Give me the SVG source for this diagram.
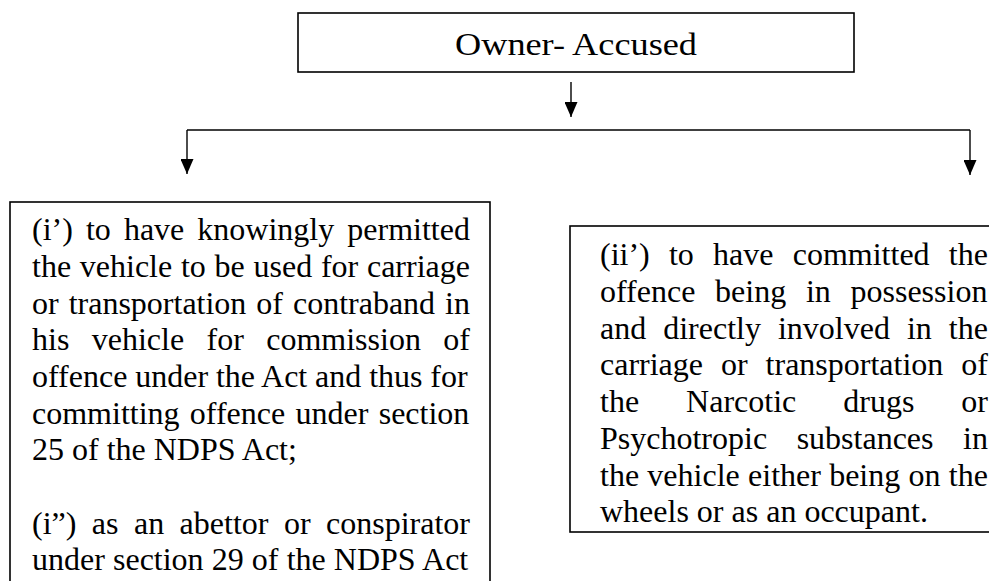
<svg xmlns="http://www.w3.org/2000/svg" width="989" height="581" viewBox="0 0 989 581">
<style>
.box{fill:#fff;stroke:#000;stroke-width:1.6}
.t{font-family:"Liberation Serif","Times New Roman",serif;font-size:32px;fill:#000}
.ln{fill:none;stroke:#000;stroke-width:1.4}
</style>
<defs>
<marker id="ah" viewBox="0 0 15 13" refX="15" refY="6.5" markerWidth="15" markerHeight="13" orient="auto" markerUnits="userSpaceOnUse">
<path d="M0,0 L15,6.5 L0,13 z" fill="#000"/>
</marker>
</defs>
<rect width="989" height="581" fill="#fff"/>
<g id="connectors">
<path class="ln" d="M571,82 V117" marker-end="url(#ah)"/>
<path class="ln" d="M187,130 H970"/>
<path class="ln" d="M187,130 V174" marker-end="url(#ah)"/>
<path class="ln" d="M970,130 V175" marker-end="url(#ah)"/>
</g>
<g id="owner-accused">
<rect class="box" x="298" y="13" width="556" height="59"/>
<text class="t" x="576" y="55" text-anchor="middle" textLength="242" lengthAdjust="spacingAndGlyphs">Owner- Accused</text>
</g>
<g id="left-option">
<rect class="box" x="10" y="202" width="480" height="420"/>
<text class="t" x="32" y="240" word-spacing="5.07">(i’) to have knowingly permitted</text>
<text class="t" x="32" y="276.8" word-spacing="0.73">the vehicle to be used for carriage</text>
<text class="t" x="32" y="313.5" word-spacing="1.97">or transportation of contraband in</text>
<text class="t" x="32" y="350.2" word-spacing="14.4">his vehicle for commission of</text>
<text class="t" x="32" y="386.9" word-spacing="-0.16">offence under the Act and thus for</text>
<text class="t" x="32" y="423.6" word-spacing="2.32">committing offence under section</text>
<text class="t" x="32" y="460.3">25 of the NDPS Act;</text>
<text class="t" x="32" y="533.7" word-spacing="7.45">(i”) as an abettor or conspirator</text>
<text class="t" x="32" y="570.4" word-spacing="0.12">under section 29 of the NDPS Act</text>
</g>
<g id="right-option">
<rect class="box" x="570" y="226" width="460" height="306"/>
<text class="t" x="600" y="265.3" word-spacing="11.23">(ii’) to have committed the</text>
<text class="t" x="600" y="302" word-spacing="11.72">offence being in possession</text>
<text class="t" x="600" y="338.7" word-spacing="9.01">and directly involved in the</text>
<text class="t" x="600" y="375.4" word-spacing="9.96">carriage or transportation of</text>
<text class="t" x="600" y="412.1" word-spacing="38.99">the Narcotic drugs or</text>
<text class="t" x="600" y="448.8" word-spacing="21.57">Psychotropic substances in</text>
<text class="t" x="600" y="485.5" word-spacing="0.28">the vehicle either being on the</text>
<text class="t" x="600" y="522.2">wheels or as an occupant.</text>
</g>
</svg>
